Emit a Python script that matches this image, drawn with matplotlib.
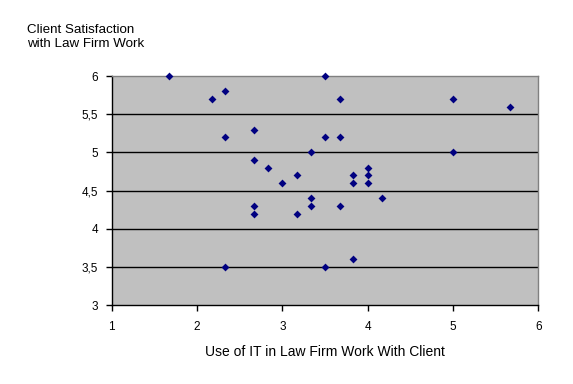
import matplotlib.pyplot as plt
from matplotlib.ticker import FuncFormatter

# === Data ===
it_use = [1.67, 2.17, 2.33, 2.33, 2.33, 2.67, 2.67, 2.67, 2.67, 2.83,
          3.0, 3.17, 3.17, 3.33, 3.33, 3.33, 3.5, 3.5, 3.5, 3.67,
          3.67, 3.67, 3.83, 3.83, 3.83, 4.0, 4.0, 4.0, 4.17, 5.0,
          5.0, 5.67]
satisfaction = [6.0, 5.7, 5.8, 5.2, 3.5, 5.3, 4.9, 4.3, 4.2, 4.8,
                4.6, 4.7, 4.2, 5.0, 4.4, 4.3, 6.0, 5.2, 3.5, 5.7,
                5.2, 4.3, 4.7, 4.6, 3.6, 4.8, 4.7, 4.6, 4.4, 5.7,
                5.0, 5.6]
x_ticks = [1, 2, 3, 4, 5, 6]
y_ticks = [3, 3.5, 4, 4.5, 5, 5.5, 6]

plt.rcParams['font.family'] = ['Liberation Sans', 'DejaVu Sans']

fig = plt.figure(figsize=(5.73, 3.84), dpi=100)
ax = fig.add_axes([0.195, 0.205, 0.7445, 0.597])
ax.set_facecolor("#C0C0C0")

# === Grid lines ===
for y in y_ticks[1:-1]:
    ax.axhline(y, color="black", linewidth=1, zorder=1)

ax.scatter(it_use, satisfaction, marker="D", s=16, color="#000080",
           linewidths=0, zorder=3, clip_on=False)

ax.set_xlim(1, 6)
ax.set_ylim(3, 6)
ax.set_xticks(x_ticks)
ax.set_yticks(y_ticks)
ax.yaxis.set_major_formatter(FuncFormatter(lambda v, p: f"{v:g}".replace(".", ",")))
ax.tick_params(direction="out", length=4, width=1, color="black",
               labelsize=8.5, pad=6)
ax.tick_params(axis="x", pad=7)

for side in ["left", "bottom"]:
    ax.spines[side].set_color("black")
    ax.spines[side].set_linewidth(1)
for side in ["top", "right"]:
    ax.spines[side].set_color("#808080")
    ax.spines[side].set_linewidth(1)

# === Titles ===
fig.text(27 / 573, 1 - 37 / 384, "Client Satisfaction\nwith Law Firm Work",
         fontsize=9.6, ha="left", va="center", linespacing=1.25)
fig.text(325 / 573, 1 - 352 / 384, "Use of IT in Law Firm Work With Client",
         fontsize=10, ha="center", va="center")

plt.savefig("out.png", dpi=100)
